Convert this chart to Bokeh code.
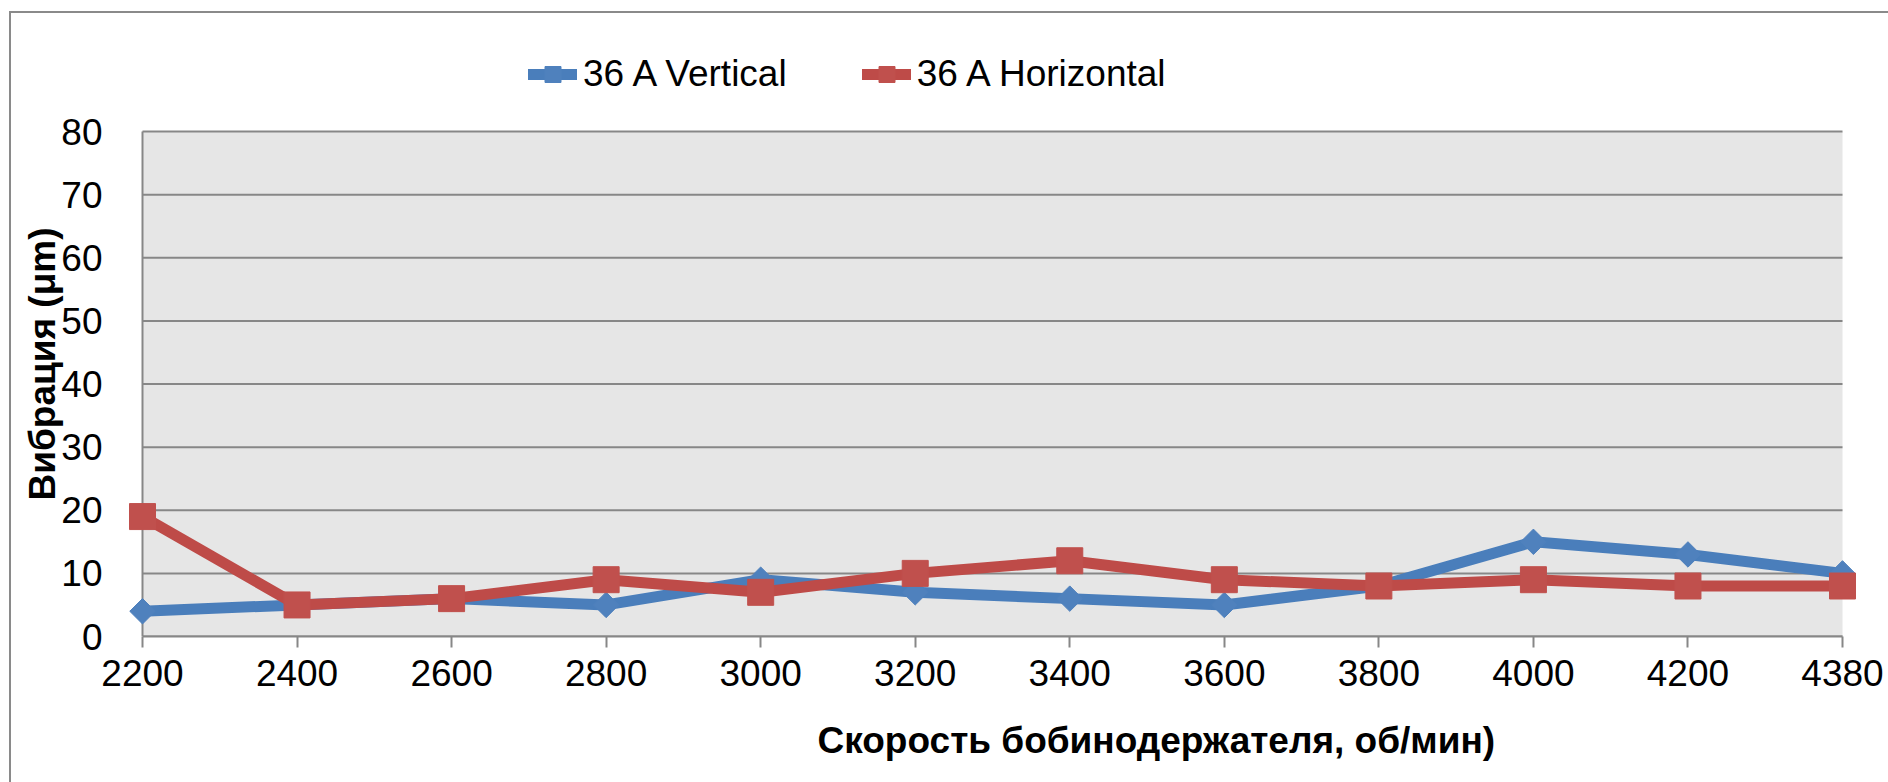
import numpy as np
from bokeh.plotting import figure
from bokeh.models import (Range1d, FixedTicker, BoxAnnotation, Legend,
                          LegendItem, Title)
from bokeh.embed import file_html
from bokeh.resources import INLINE

# ---- data -------------------------------------------------------------
speeds = ["2200", "2400", "2600", "2800", "3000", "3200",
          "3400", "3600", "3800", "4000", "4200", "4380"]
vertical = [4, 5, 6, 5, 9, 7, 6, 5, 8, 15, 13, 10]
horizontal = [19, 5, 6, 9, 7, 10, 12, 9, 8, 9, 8, 8]
y_ticks = [0, 10, 20, 30, 40, 50, 60, 70, 80]
series_names = ["36 A Vertical", "36 A Horizontal"]
x_title = "Скорость бобинодержателя, об/мин)"
y_title = "Вибрация (μm)"

# ---- layout -----------------------------------------------------------
W, H = 1888, 782
PLOT_L, PLOT_R = 142, 1842
PLOT_T, PLOT_B = 131, 636
EXT_PX = 18
FRAME_L, FRAME_R = PLOT_L - EXT_PX, PLOT_R + EXT_PX
FRAME_T = 30
n = len(speeds)
x = list(range(n))
ext = EXT_PX * (n - 1) / (PLOT_R - PLOT_L)
px_per_unit = (PLOT_B - PLOT_T) / (y_ticks[-1] - y_ticks[0])
y_top = (PLOT_B - FRAME_T) / px_per_unit

FONT = "Liberation Sans"
GRID = "#878787"
BLUE_L, BLUE_M = "#4a7ebb", "#4f81bd"
RED_L, RED_M = "#be4b48", "#c0504d"

p = figure(width=W, height=H, output_backend="svg", toolbar_location=None,
           x_range=Range1d(-ext, n - 1 + ext), y_range=Range1d(0, y_top),
           min_border_left=FRAME_L, min_border_right=W - FRAME_R,
           min_border_top=FRAME_T, min_border_bottom=H - PLOT_B)
p.title = None
p.outline_line_color = None
p.background_fill_color = "white"
p.border_fill_color = None
p.styles = {"box-shadow": "inset 9px 11px 0 0 #ffffff, inset 11px 13px 0 0 #8a8a8a"}
p.xgrid.visible = False
p.ygrid.visible = False

# plot area background
p.add_layout(BoxAnnotation(left=0, right=n - 1, bottom=y_ticks[0], top=y_ticks[-1],
                           fill_color="#e6e6e6", fill_alpha=1.0, line_color=None,
                           level="image"))
# horizontal gridlines + left edge
p.segment(x0=[0] * len(y_ticks), x1=[n - 1] * len(y_ticks), y0=y_ticks, y1=y_ticks,
          line_color=GRID, line_width=2, level="underlay")
p.segment(x0=[0], x1=[0], y0=[y_ticks[0]], y1=[y_ticks[-1]],
          line_color=GRID, line_width=2, level="underlay")

# series
bl = p.line(x, vertical, line_color=BLUE_L, line_width=11, line_join="round",
            line_cap="round")
bs = p.scatter(x, vertical, marker="square", angle=np.pi / 4, size=18,
               fill_color=BLUE_M, line_color=BLUE_M)
rl = p.line(x, horizontal, line_color=RED_L, line_width=11, line_join="round",
            line_cap="round")
rs = p.scatter(x, horizontal, marker="square", size=26,
               fill_color=RED_M, line_color=RED_M)

legend = Legend(items=[LegendItem(label=series_names[0], renderers=[bl, bs]),
                       LegendItem(label=series_names[1], renderers=[rl, rs])],
                orientation="horizontal", location=(404, 541), padding=0, margin=0,
                spacing=75, label_standoff=6, glyph_width=49, glyph_height=40,
                label_height=40, label_text_font=FONT, label_text_font_size="37px",
                label_text_color="black", border_line_color=None,
                background_fill_alpha=0)
p.add_layout(legend, "center")

# axes
p.xaxis.ticker = FixedTicker(ticks=x)
p.xaxis.major_label_overrides = {i: s for i, s in enumerate(speeds)}
p.xaxis.bounds = (0, n - 1)
p.xaxis.axis_line_color = GRID
p.xaxis.axis_line_width = 2
p.xaxis.major_tick_line_color = GRID
p.xaxis.major_tick_line_width = 2
p.xaxis.major_tick_out = 11
p.xaxis.major_tick_in = 0
p.xaxis.minor_tick_line_color = None
p.xaxis.major_label_standoff = 12

p.yaxis.ticker = FixedTicker(ticks=y_ticks)
p.yaxis.axis_line_color = None
p.yaxis.major_tick_line_color = None
p.yaxis.minor_tick_line_color = None
p.yaxis.major_label_standoff = 16

for ax in (p.xaxis, p.yaxis):
    ax.major_label_text_font = FONT
    ax.major_label_text_font_size = "37px"
    ax.major_label_text_color = "black"

p.add_layout(Title(text=x_title, align="left", offset=693, standoff=0,
                   vertical_align="top", padding=dict(left=0, right=0, top=31, bottom=0),
                   text_font=FONT, text_font_style="bold", text_font_size="37px",
                   text_color="black"), "below")
p.add_layout(Title(text=y_title, align="left", offset=136, standoff=-8,
                   text_font=FONT, text_font_style="bold", text_font_size="37px",
                   text_color="black"), "left")

open("out.html", "w").write(file_html(p, INLINE))
